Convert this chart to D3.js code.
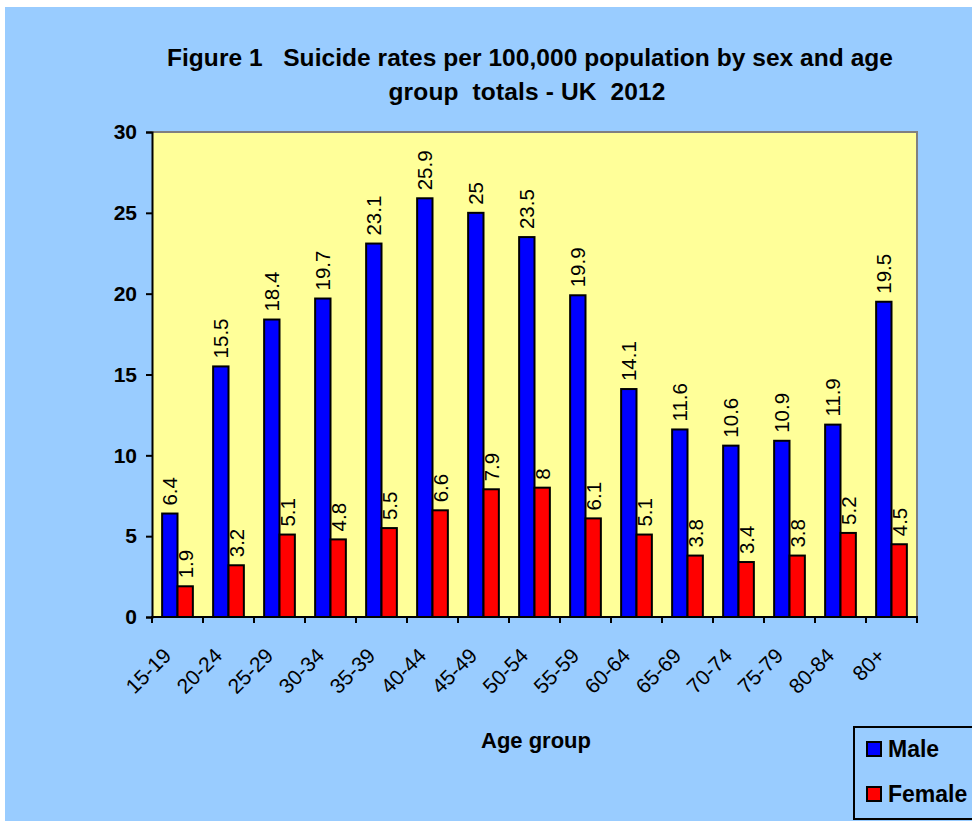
<!DOCTYPE html>
<html>
<head>
<meta charset="utf-8">
<script src="https://cdn.jsdelivr.net/npm/d3@7/dist/d3.min.js"></script>
<style>
  html, body { margin: 0; padding: 0; background: #ffffff; }
  svg { display: block; font-family: "Liberation Sans", Arial, sans-serif; }
  text { white-space: pre; }
</style>
</head>
<body>
<svg id="chart" width="972" height="821"></svg>
<script>
// Suicide rates per 100,000 population, UK 2012
const ageGroups = ["15-19","20-24","25-29","30-34","35-39","40-44","45-49","50-54","55-59","60-64","65-69","70-74","75-79","80-84","80+"];
const maleRates = [6.4,15.5,18.4,19.7,23.1,25.9,25,23.5,19.9,14.1,11.6,10.6,10.9,11.9,19.5];
const femaleRates = [1.9,3.2,5.1,4.8,5.5,6.6,7.9,8,6.1,5.1,3.8,3.4,3.8,5.2,4.5];
const yTicks = [0,5,10,15,20,25,30];
const seriesNames = ["Male","Female"];
const seriesColors = ["#0000FF","#FF0000"];

const rows = ageGroups.map((g, i) => ({ group: g, values: [maleRates[i], femaleRates[i]] }));

const svg = d3.select("#chart");

// Page background
svg.append("rect").attr("x", 5).attr("y", 7).attr("width", 967).attr("height", 814).attr("fill", "#99CCFF");

const plot = { left: 152, right: 917, top: 132, bottom: 617 };

const x = d3.scaleBand().domain(ageGroups).range([plot.left, plot.right]).paddingInner(0).paddingOuter(0);
const xSub = d3.scaleBand().domain([0, 1]).range([0, x.bandwidth()]).paddingInner(0).paddingOuter(0.66);
const y = d3.scaleLinear().domain([0, 30]).range([plot.bottom, plot.top]);

// Plot area
svg.append("rect")
  .attr("x", plot.left).attr("y", plot.top)
  .attr("width", plot.right - plot.left).attr("height", plot.bottom - plot.top)
  .attr("fill", "#FFFF99");
svg.append("path")
  .attr("d", `M${plot.left},${plot.top}H${plot.right}V${plot.bottom}`)
  .attr("fill", "none").attr("stroke", "#808080").attr("stroke-width", 2);

// Title
const title = svg.append("text")
  .attr("text-anchor", "middle")
  .attr("font-weight", "bold").attr("font-size", 24.5).attr("fill", "#000");
title.append("tspan").attr("x", 530).attr("y", 66)
  .attr("textLength", 726).attr("lengthAdjust", "spacing")
  .text("Figure 1   Suicide rates per 100,000 population by sex and age");
title.append("tspan").attr("x", 527).attr("y", 100)
  .attr("textLength", 277).attr("lengthAdjust", "spacing")
  .text("group  totals - UK  2012");

// Bars
const groups = svg.append("g").selectAll("g").data(rows).join("g")
  .attr("transform", d => `translate(${x(d.group)},0)`);

groups.selectAll("rect").data(d => d.values).join("rect")
  .attr("x", (v, i) => xSub(i))
  .attr("y", v => y(v))
  .attr("width", xSub.bandwidth())
  .attr("height", v => y(0) - y(v))
  .attr("fill", (v, i) => seriesColors[i])
  .attr("stroke", "#000").attr("stroke-width", 2);

// Value labels
groups.selectAll("text").data(d => d.values).join("text")
  .attr("transform", (v, i) => `translate(${xSub(i) + xSub.bandwidth() / 2},${y(v) - 8}) rotate(-90)`)
  .attr("dy", "0.36em")
  .attr("font-size", 20.5).attr("fill", "#000")
  .text(v => String(v));

// Y axis
const yAxis = svg.append("g")
  .attr("transform", `translate(${plot.left},0)`)
  .call(d3.axisLeft(y).tickValues(yTicks).tickSize(6).tickPadding(9).tickFormat(d3.format("d")));
yAxis.select(".domain").attr("stroke", "#000").attr("stroke-width", 2);
yAxis.selectAll(".tick line").attr("stroke", "#000").attr("stroke-width", 2);
yAxis.selectAll(".tick text")
  .attr("font-size", 21).attr("font-weight", "bold").attr("fill", "#000")
  .attr("font-family", "Liberation Sans, Arial, sans-serif");

// X axis: ticks sit on the band boundaries
const boundaries = d3.range(ageGroups.length + 1).map(i => plot.left + i * x.step());
const xAxis = svg.append("g");
xAxis.append("line")
  .attr("x1", plot.left - 1).attr("x2", plot.right + 1)
  .attr("y1", plot.bottom).attr("y2", plot.bottom)
  .attr("stroke", "#000").attr("stroke-width", 2);
xAxis.selectAll("line.tick").data(boundaries).join("line")
  .attr("class", "tick")
  .attr("x1", d => d).attr("x2", d => d)
  .attr("y1", plot.bottom).attr("y2", plot.bottom + 6)
  .attr("stroke", "#000").attr("stroke-width", 2);
xAxis.selectAll("text").data(ageGroups).join("text")
  .attr("transform", d => `translate(${x(d) + x.bandwidth() / 2 - 5},${plot.bottom + 40}) rotate(-45)`)
  .attr("text-anchor", "end")
  .attr("font-size", 21).attr("fill", "#000")
  .text(d => d);

// Axis title
svg.append("text")
  .attr("x", 536).attr("y", 748)
  .attr("text-anchor", "middle")
  .attr("font-size", 22).attr("font-weight", "bold").attr("fill", "#000")
  .text("Age group");

// Legend
const legend = svg.append("g");
legend.append("rect")
  .attr("x", 854).attr("y", 727).attr("width", 130).attr("height", 92)
  .attr("fill", "none").attr("stroke", "#000").attr("stroke-width", 2);
const items = legend.selectAll("g").data(seriesNames).join("g")
  .attr("transform", (d, i) => `translate(867,${742 + i * 45})`);
items.append("rect")
  .attr("width", 14).attr("height", 14)
  .attr("fill", (d, i) => seriesColors[i])
  .attr("stroke", "#000").attr("stroke-width", 2);
items.append("text")
  .attr("x", 21).attr("y", 15)
  .attr("font-size", 23).attr("font-weight", "bold").attr("fill", "#000")
  .text(d => d);
</script>
</body>
</html>
